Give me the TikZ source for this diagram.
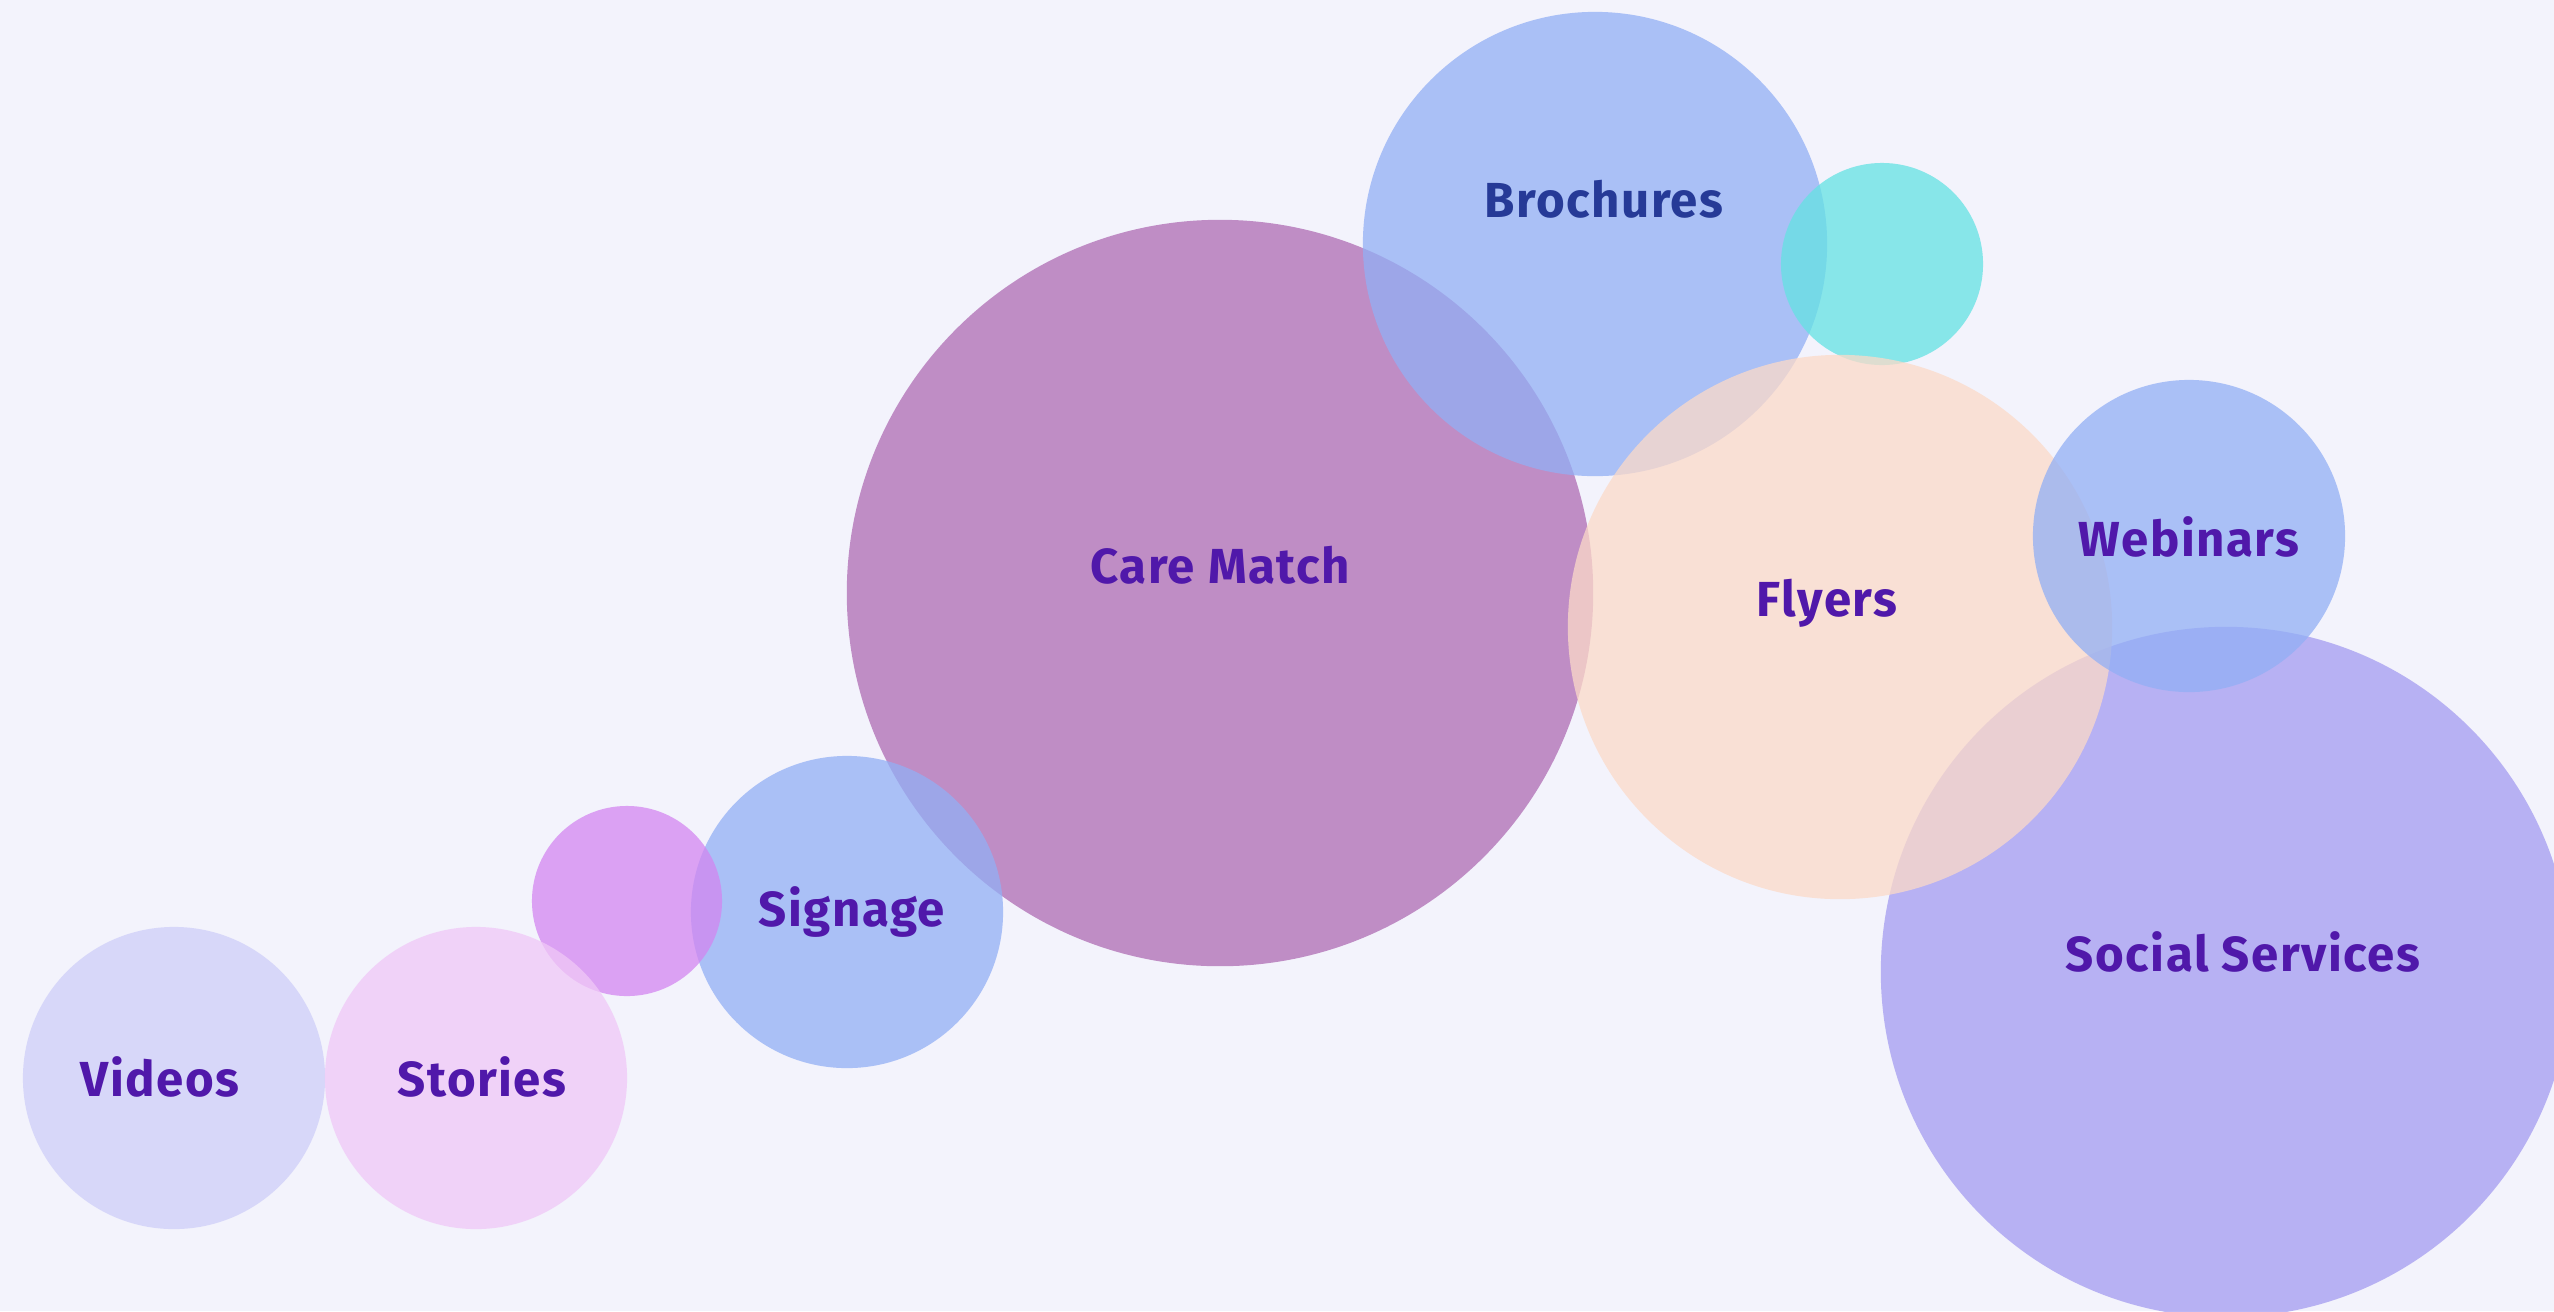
\documentclass[tikz,border=0pt]{standalone}
\usepackage{fontspec}
\setmainfont{Fira Sans}[LetterSpace=3]
\usepackage{tikz}
\usetikzlibrary{positioning}
\definecolor{bgcol}{RGB}{243,243,252}
\definecolor{inkcol}{RGB}{80,24,170}
\definecolor{navycol}{RGB}{38,58,151}
\definecolor{plumcol}{RGB}{174,107,179}
\definecolor{bluecol}{RGB}{146,175,245}
\definecolor{aquacol}{RGB}{100,226,227}
\definecolor{peachcol}{RGB}{252,218,200}
\definecolor{lavcol}{RGB}{164,156,240}
\definecolor{orchcol}{RGB}{211,134,240}
\definecolor{mistcol}{RGB}{206,206,249}
\definecolor{pinkcol}{RGB}{240,200,247}
\tikzstyle{bubble}=[circle, inner sep=0pt, fill opacity=0.75, draw=none]
\tikzstyle{tag}=[font=\fontsize{14}{17}\selectfont\bfseries, text=inkcol, inner sep=1pt]

\begin{document}
\begin{tikzpicture}[x=0.01cm,y=-0.01cm]
\fill[bgcol] (0,0) rectangle (2554,1311);
\useasboundingbox (0,0) rectangle (2554,1311);
%\node[font=\Large] at (1277,40) {Channels};
\node[bubble,fill=lavcol,minimum size=6.90cm] (social) at (2226,972) {};
\node[bubble,fill=plumcol,minimum size=7.46cm] (care) at (1220,593) {};
\node[bubble,fill=bluecol,minimum size=4.64cm] (broch) at (1595,244) {};
\node[bubble,fill=aquacol,minimum size=2.02cm] (dot2) at (1882,264) {};
\node[bubble,fill=peachcol,minimum size=5.44cm] (flyers) at (1840,627) {};
\node[bubble,fill=bluecol,minimum size=3.12cm] (webin) at (2189,536) {};
\node[bubble,fill=bluecol,minimum size=3.12cm] (signage) at (847,912) {};
\node[bubble,fill=orchcol,minimum size=1.90cm] (dot1) at (627,901) {};
\node[bubble,fill=mistcol,minimum size=3.02cm] (videos) at (174,1078) {};
\node[bubble,fill=pinkcol,minimum size=3.02cm] (stories) at (476,1078) {};
\node[tag] (videosT) at (160,1077) {Videos};
\node[tag] (storiesT) at (482,1077) {Stories};
\node[tag] (signageT) at (852,912) {Signage};
\node[tag] (careT) at (1220,565) {Care Match};
\node[tag,text=navycol] (brochT) at (1604,199) {Brochures};
\node[tag] (flyersT) at (1827,603) {Flyers};
\node[tag] (webinT) at (2189,537) {Webinars};
\node[tag] (socialT) at (2243,952) {Social Services};
\end{tikzpicture}
\end{document}
